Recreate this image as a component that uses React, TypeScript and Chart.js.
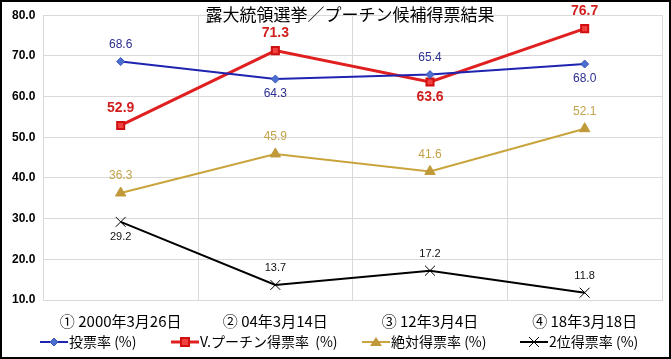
import React, { useEffect, useRef } from "react";
import { Chart, registerables } from "chart.js";

Chart.register(...registerables);

const categories = ["① 2000年3月26日", "② 04年3月14日", "③ 12年3月4日", "④ 18年3月18日"];
const turnout = [68.6, 64.3, 65.4, 68.0];
const putinShare = [52.9, 71.3, 63.6, 76.7];
const absoluteShare = [36.3, 45.9, 41.6, 52.1];
const secondShare = [29.2, 13.7, 17.2, 11.8];
const seriesNames = ["投票率 (%)", "V.プーチン得票率  (%)", "絶対得票率 (%)", "2位得票率 (%)"];
const title = "露大統領選挙／プーチン候補得票結果";

// label placement per series: +1 above, -1 below
const labelPos = [
  [1, -1, 1, -1],
  [1, 1, -1, 1],
  [1, 1, 1, 1],
  [-1, 1, 1, 1],
];
const labelStyle = [
  { color: "#2b2f8f", font: "12px 'Liberation Sans', Arial, sans-serif" },
  { color: "#d11f1f", font: "bold 14px 'Liberation Sans', Arial, sans-serif" },
  { color: "#c3a24a", font: "12px 'Liberation Sans', Arial, sans-serif" },
  { color: "#111111", font: "11px 'Liberation Sans', Arial, sans-serif" },
];

const decorPlugin = {
  id: "decor",
  afterDraw(chart: any) {
    const ctx = chart.ctx as CanvasRenderingContext2D;
    ctx.save();
    // data labels
    chart.data.datasets.forEach((ds: any, di: number) => {
      const meta = chart.getDatasetMeta(di);
      meta.data.forEach((pt: any, i: number) => {
        const v = ds.data[i] as number;
        const st = labelStyle[di];
        ctx.font = st.font;
        ctx.fillStyle = st.color;
        ctx.textAlign = "center";
        ctx.textBaseline = "middle";
        const off = labelPos[di][i] > 0 ? -17 : 15;
        ctx.fillText(v.toFixed(1), pt.x, pt.y + off);
      });
    });
    // title
    ctx.font = "17px 'Noto Sans CJK JP', sans-serif";
    ctx.fillStyle = "#000";
    ctx.textAlign = "center";
    ctx.textBaseline = "middle";
    ctx.fillText(title, 350, 15);
    // legend
    const legendX = [40, 171, 362, 520];
    const ly = 342;
    chart.data.datasets.forEach((ds: any, di: number) => {
      const x0 = legendX[di];
      ctx.strokeStyle = ds.borderColor;
      ctx.lineWidth = di === 1 ? 3 : 2;
      ctx.beginPath();
      ctx.moveTo(x0, ly);
      ctx.lineTo(x0 + 28, ly);
      ctx.stroke();
      const cx = x0 + 14;
      ctx.fillStyle = ds.pointBackgroundColor;
      ctx.strokeStyle = ds.pointBorderColor;
      ctx.lineWidth = 1;
      if (di === 0) {
        ctx.beginPath();
        ctx.moveTo(cx, ly - 4);
        ctx.lineTo(cx + 4, ly);
        ctx.lineTo(cx, ly + 4);
        ctx.lineTo(cx - 4, ly);
        ctx.closePath();
        ctx.fill();
        ctx.stroke();
      } else if (di === 1) {
        ctx.lineWidth = 2;
        ctx.fillRect(cx - 4, ly - 4, 8, 8);
        ctx.strokeRect(cx - 4, ly - 4, 8, 8);
      } else if (di === 2) {
        ctx.beginPath();
        ctx.moveTo(cx, ly - 5);
        ctx.lineTo(cx + 6, ly + 4);
        ctx.lineTo(cx - 6, ly + 4);
        ctx.closePath();
        ctx.fill();
      } else {
        ctx.beginPath();
        ctx.moveTo(cx - 5, ly - 5);
        ctx.lineTo(cx + 5, ly + 5);
        ctx.moveTo(cx + 5, ly - 5);
        ctx.lineTo(cx - 5, ly + 5);
        ctx.stroke();
      }
      ctx.font = "14px 'Noto Sans CJK JP', sans-serif";
      ctx.fillStyle = "#000";
      ctx.textAlign = "left";
      ctx.textBaseline = "middle";
      ctx.fillText(seriesNames[di], x0 + 29, ly);
    });
    // frame
    ctx.strokeStyle = "#000";
    ctx.lineWidth = 2;
    ctx.strokeRect(1, 1, chart.width - 2, chart.height - 2);
    ctx.restore();
  },
};

export default function App() {
  const ref = useRef<HTMLCanvasElement>(null);
  useEffect(() => {
    document.body.style.margin = "0";
    const chart = new Chart(ref.current!, {
      type: "line",
      data: {
        labels: categories,
        datasets: [
          {
            label: seriesNames[0],
            data: turnout,
            borderColor: "#1f24b0",
            borderWidth: 2,
            pointStyle: "rectRot",
            pointRadius: 4,
            pointBackgroundColor: "#4a6fd0",
            pointBorderColor: "#3a55b8",
            pointBorderWidth: 1,
          },
          {
            label: seriesNames[1],
            data: putinShare,
            borderColor: "#e02020",
            borderWidth: 3,
            pointStyle: "rect",
            pointRadius: 5,
            pointBackgroundColor: "#f04040",
            pointBorderColor: "#d01010",
            pointBorderWidth: 2,
          },
          {
            label: seriesNames[2],
            data: absoluteShare,
            borderColor: "#c9a43c",
            borderWidth: 2,
            pointStyle: "triangle",
            pointRadius: 6,
            pointBackgroundColor: "#c09a3a",
            pointBorderColor: "#c09a3a",
            pointBorderWidth: 1,
          },
          {
            label: seriesNames[3],
            data: secondShare,
            borderColor: "#000000",
            borderWidth: 2,
            pointStyle: "cross",
            pointRotation: 45,
            pointRadius: 7,
            pointBackgroundColor: "#000",
            pointBorderColor: "#000",
            pointBorderWidth: 1,
          },
        ],
      },
      options: {
        animation: false,
        responsive: false,
        layout: { padding: { top: 9, right: 9, bottom: 17, left: 4 } },
        plugins: { legend: { display: false }, title: { display: false }, tooltip: { enabled: false } },
        scales: {
          x: {
            offset: true,
            grid: { color: "#d9d9d9", offset: true, drawTicks: false },
            border: { color: "#d9d9d9" },
            ticks: {
              color: "#000",
              font: { family: "'Noto Sans CJK JP', sans-serif", size: 15 },
              padding: 12,
              maxRotation: 0,
            },
          },
          y: {
            min: 10,
            max: 80,
            grid: { color: "#d9d9d9", drawTicks: false },
            border: { color: "#d9d9d9" },
            ticks: {
              stepSize: 10,
              color: "#000",
              padding: 8,
              font: { family: "'Liberation Sans', Arial, sans-serif", size: 12, weight: "bold" },
              callback: (v: any) => Number(v).toFixed(1),
            },
          },
        },
      },
      plugins: [decorPlugin],
    });
    return () => chart.destroy();
  }, []);
  return <canvas ref={ref} width={671} height={359} style={{ display: "block" }} />;
}
